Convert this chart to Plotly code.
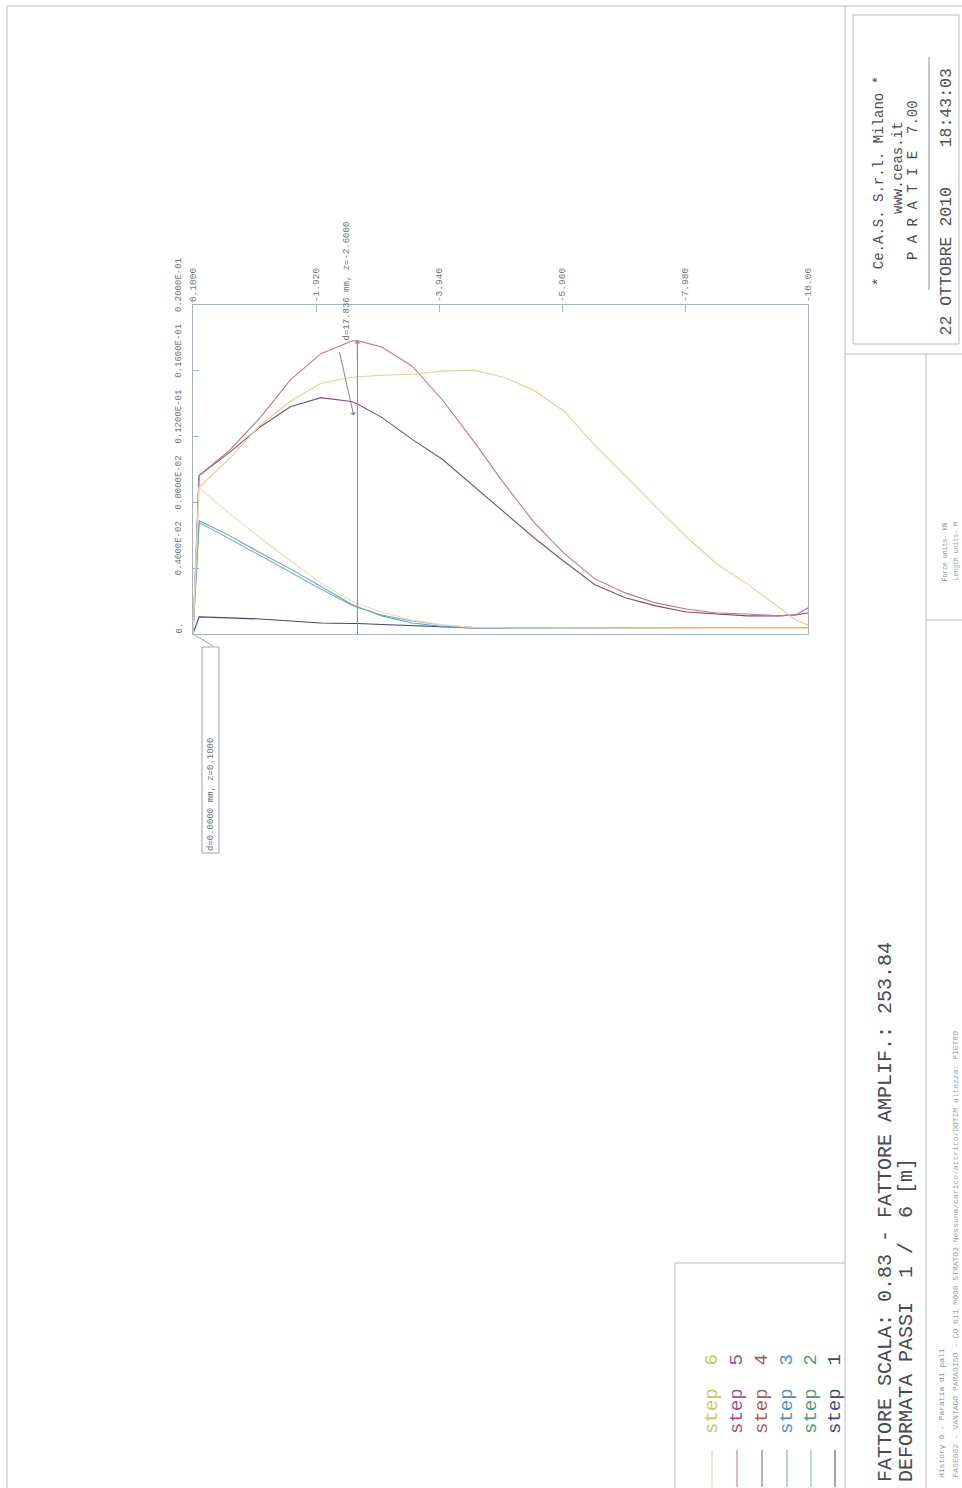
import plotly.graph_objects as go

# ---------------- data (depth z [m], displacement d [m]) ----------------
z = [0.1, 0.0, -0.5, -1.0, -1.5, -2.0, -2.5, -2.6, -3.0, -3.5, -4.0, -4.5,
     -5.0, -5.5, -6.0, -6.5, -7.0, -7.5, -8.0, -8.5, -9.0, -9.5, -9.8, -10.0]

step1 = [0, 0.00104, 0.00098, 0.00091, 0.00079, 0.00067, 0.00064, 0.00064, 0.00058, 0.00052, 0.00043, 0.00037,
         0.00036, 0.00036, 0.00035, 0.00035, 0.00035, 0.00035, 0.00034, 0.00034, 0.00034, 0.00034, 0.00034, 0.00034]
step2 = [0, 0.00677, 0.00579, 0.00476, 0.00378, 0.00274, 0.00177, 0.00162, 0.00116, 0.00079, 0.00055, 0.00040,
         0.00037, 0.00036, 0.00035, 0.00035, 0.00035, 0.00035, 0.00034, 0.00034, 0.00034, 0.00034, 0.00034, 0.00034]
step3 = [0, 0.00689, 0.00598, 0.00494, 0.00396, 0.00287, 0.00183, 0.00165, 0.00110, 0.00067, 0.00046, 0.00037,
         0.00036, 0.00036, 0.00035, 0.00035, 0.00035, 0.00035, 0.00034, 0.00034, 0.00034, 0.00034, 0.00034, 0.00034]
step4 = [0, 0.00963, 0.01104, 0.01258, 0.01381, 0.01437, 0.01413, 0.01398, 0.01317, 0.01183, 0.01061, 0.00902,
         0.00741, 0.00585, 0.00439, 0.00299, 0.00220, 0.00171, 0.00134, 0.00122, 0.00110, 0.00110, 0.00116, 0.00128]
step5 = [0, 0.00963, 0.01116, 0.01314, 0.01545, 0.01704, 0.01780, 0.017836, 0.01745, 0.01628, 0.01421, 0.01177,
         0.00919, 0.00679, 0.00488, 0.00335, 0.00250, 0.00189, 0.00152, 0.00128, 0.00122, 0.00110, 0.00116, 0.00159]
step6 = [0, 0.00892, 0.01067, 0.01268, 0.01415, 0.01524, 0.01561, 0.01564, 0.01573, 0.01579, 0.01598, 0.01604,
         0.01561, 0.01482, 0.01353, 0.01146, 0.00957, 0.00774, 0.00591, 0.00427, 0.00305, 0.00171, 0.00085, 0.00055]
extra = [0, 0.00890, 0.00732, 0.00585, 0.00445, 0.00311, 0.00201, 0.00185, 0.00134, 0.00085, 0.00055, 0.00040,
         0.00037, 0.00036, 0.00035, 0.00035, 0.00035, 0.00035, 0.00034, 0.00034, 0.00034, 0.00034, 0.00034, 0.00034]

step_names = ["step 1", "step 2", "step 3", "step 4", "step 5", "step 6"]
step_values = [step1, step2, step3, step4, step5, step6]
line_colors = ["#3c4a6c", "#7ab6b2", "#6c9ecc", "#7e5070", "#cc7088", "#e4d094"]
text_colors = ["#3c4a80", "#4a9a74", "#4a90c8", "#a0605a", "#a0508c", "#c8c85a"]

x_tickvals = [0.1, -1.92, -3.94, -5.96, -7.98, -10.0]
x_ticktext = ["0.1000", "-1.920", "-3.940", "-5.960", "-7.980", "-10.00"]
y_tickvals = [0.0, 0.004, 0.008, 0.012, 0.016, 0.02]
y_ticktext = ["0.", "0.4000E-02", "0.8000E-02", "0.1200E-01", "0.1600E-01", "0.2000E-01"]

title1 = "FATTORE SCALA: 0.83 - FATTORE AMPLIF.: 253.84"
title2 = "DEFORMATA PASSI  1 /  6 [m]"

# ---------------- geometry helpers ----------------
W, H = 962, 1488
L, R, T, B = 193, 808, 305, 634
MONO = "Liberation Mono, Courier New, monospace"


def fx(px):
    return (px - L) / (R - L)


def fy(py):
    return (B - py) / (B - T)


def nb(s):
    return s.replace(" ", "\u00a0")


fig = go.Figure()
for name, vals, col in zip(step_names, step_values, line_colors):
    fig.add_trace(go.Scatter(x=z, y=vals, mode="lines", name=name,
                             line=dict(color=col, width=1.1)))
fig.add_trace(go.Scatter(x=z, y=extra, mode="lines", name="step 6 (bis)",
                         line=dict(color="#ecdcb0", width=1.1), showlegend=False))

frame_col = "#a8b4bc"
fig.update_layout(
    width=W, height=H, autosize=False,
    margin=dict(l=L, r=W - R, t=T, b=H - B, pad=0),
    paper_bgcolor="white", plot_bgcolor="white", showlegend=False,
)
fig.update_xaxes(range=[0.1, -10.0], side="top", tickmode="array",
                 tickvals=x_tickvals, ticktext=x_ticktext, tickangle=-90,
                 ticks="inside", ticklen=7, tickcolor=frame_col, showline=True,
                 mirror=True, linecolor=frame_col, linewidth=1, showgrid=False,
                 zeroline=False, ticklabelstandoff=0,
                 tickfont=dict(family=MONO, size=9.5, color="#707478"))
fig.update_yaxes(range=[0, 0.02], tickmode="array", tickvals=y_tickvals,
                 ticks="inside", ticklen=6, tickcolor=frame_col, showline=True,
                 mirror=True, linecolor=frame_col, linewidth=1, showgrid=False,
                 zeroline=False, showticklabels=False)

ann = []
# y tick labels (rotated, starting at the tick)
for v, t in zip(y_tickvals, y_ticktext):
    ann.append(dict(x=fx(179), xref="paper", y=v, yref="y", text=t, showarrow=False,
                    textangle=-90, xanchor="center", yanchor="bottom",
                    yshift=-2 if len(t) < 4 else -9,
                    font=dict(family=MONO, size=9, color="#707478")))

# max displacement marker
i_pk = max(range(len(step5)), key=lambda k: step5[k])
pk_z, pk_d = z[i_pk], step5[i_pk]
shapes = [dict(type="line", xref="x", yref="y", x0=pk_z, x1=pk_z, y0=0, y1=pk_d,
               line=dict(color="#7c8894", width=1))]
ann.append(dict(x=pk_z, y=pk_d, xref="x", yref="y", ax=pk_z, ay=pk_d - 0.0012,
                axref="x", ayref="y", text="", showarrow=True, arrowhead=1,
                arrowsize=1, arrowwidth=1, arrowcolor="#7c8894"))
ann.append(dict(x=pk_z + 0.06, y=step4[i_pk] - 0.0007, xref="x", yref="y",
                ax=pk_z + 0.30, ay=pk_d - 0.0006, axref="x", ayref="y", text="",
                showarrow=True, arrowhead=1, arrowsize=1, arrowwidth=1,
                arrowcolor="#7c8894"))
ann.append(dict(x=pk_z + 0.17, y=pk_d + 0.0001, xref="x", yref="y",
                text=f"d={pk_d*1000:.3f} mm, z={pk_z:.4f}", showarrow=False,
                textangle=-90, xanchor="center", yanchor="bottom", yshift=-4,
                font=dict(family=MONO, size=9, color="#6c7076")))

# z = 0.1 callout box
shapes.append(dict(type="rect", xref="paper", yref="paper", x0=fx(202), x1=fx(219),
                   y0=fy(853), y1=fy(647), line=dict(color="#9aa4aa", width=1)))
shapes.append(dict(type="line", xref="paper", yref="paper", x0=fx(193), x1=fx(213),
                   y0=fy(634), y1=fy(646), line=dict(color="#9aa4aa", width=1)))
ann.append(dict(x=fx(210.5), y=fy(849), xref="paper", yref="paper",
                text=f"d={step1[0]*1000:.4f} mm, z={z[0]:.4f}", showarrow=False,
                textangle=-90, xanchor="center", yanchor="bottom", yshift=-4,
                font=dict(family=MONO, size=9, color="#6c7076")))

# page frame / title block lines
pg = "#b4bcc2"


def pline(x0, y0, x1, y1, col=pg, w=1):
    shapes.append(dict(type="line", xref="paper", yref="paper", x0=fx(x0), x1=fx(x1),
                       y0=fy(y0), y1=fy(y1), line=dict(color=col, width=w)))


pline(7, 6, 962, 6)
pline(7, 6, 7, 1488)
pline(845, 6, 845, 1488)
pline(845, 354, 962, 354)
pline(926, 354, 926, 1488)
pline(926, 620, 962, 620)
pline(675, 1263, 845, 1263)
pline(675, 1263, 675, 1488)
shapes.append(dict(type="rect", xref="paper", yref="paper", x0=fx(853), x1=fx(959),
                   y0=fy(344), y1=fy(15), line=dict(color=pg, width=1)))
pline(929, 57, 929, 290, col="#8a9298")


def vtext(px, py, text, size, color="#4a4e54", anchor="bottom"):
    ann.append(dict(x=fx(px), y=fy(py), xref="paper", yref="paper", text=nb(text),
                    showarrow=False, textangle=-90, xanchor="center", yanchor=anchor,
                    font=dict(family=MONO, size=size, color=color)))


# title block
vtext(879, 181, "* Ce.A.S. S.r.l. Milano *", 14, anchor="middle")
vtext(898, 168, "www.ceas.it", 14, anchor="middle")
vtext(913, 180, "P A R A T I E  7.00", 14, anchor="middle")
vtext(946, 338, "22 OTTOBRE 2010    18:43:03", 16.5)

# main caption
vtext(885, 1484, title1, 20, color="#464a52")
vtext(906, 1484, title2, 20, color="#464a52")

# small notes
vtext(941, 1480, "History 0 - Paratia di pali", 8, color="#8a8e94")
vtext(955, 1480, "FASE002 - VANTAGO PARADISO - CO 611 MO08 STRATO3 Nessuna/carico/attrito/DOTIM altezza: PIETRO", 8, color="#9a9ea4")
vtext(945, 583, "Force units- kN", 6.5, color="#8a8e94")
vtext(956, 583, "Length units- M", 6.5, color="#9a9ea4")

# legend (rotated, drawn by hand)
leg_x = [835, 811, 787, 762, 737, 712]
for name, tc, lc, lx in zip(step_names, text_colors, line_colors, leg_x):
    vtext(lx, 1436, name.replace(" ", "  "), 19, color=tc)
    pline(lx, 1450, lx, 1487, col=lc)

fig.update_layout(annotations=ann, shapes=shapes)
fig.write_html("out.html", config={"displayModeBar": False},
               post_script="document.body.style.margin='0';document.body.style.overflow='hidden';")
